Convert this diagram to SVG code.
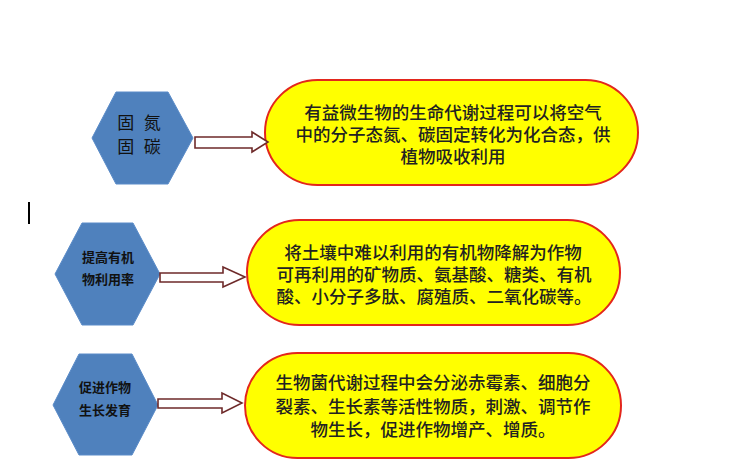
<svg xmlns="http://www.w3.org/2000/svg" width="742" height="471" viewBox="0 0 742 471">
<style>
.hex{fill:#4f81bd;stroke:#5a8bc8;stroke-width:1}
.pill{fill:#ffff00;stroke:#e3261c;stroke-width:2}
.arr{fill:#ffffff;stroke:#6e2a2a;stroke-width:1.6;stroke-linejoin:miter}
text{font-family:"Liberation Sans","Noto Sans CJK SC","Noto Sans CJK JP",sans-serif;text-anchor:middle;dominant-baseline:central}
.ht{font-size:13px;font-weight:700;fill:#111}
.hb{font-size:17px;font-weight:400;fill:#111}
.pt{font-size:17.5px;font-weight:500;fill:#222}
</style>
<rect width="742" height="471" fill="#ffffff"/>
<line x1="29" y1="202" x2="29" y2="224" stroke="#000" stroke-width="2"/>

<g id="node-gudan">
<polygon class="hex" points="92,138 116,92 168,92 193,138 168,184 116,184"/>
<text class="hb" x="139" y="123" xml:space="preserve">固  氮<tspan x="139" dy="24">固  碳</tspan></text>
</g>
<g id="node-desc1">
<rect class="pill" x="265" y="80" width="373" height="105" rx="52.5"/>
<text class="pt" x="453" y="113">有益微生物的生命代谢过程可以将空气<tspan x="453" dy="22">中的分子态氮、碳固定转化为化合态，供</tspan><tspan x="453" dy="22">植物吸收利用</tspan></text>
</g>

<g id="node-tigao">
<polygon class="hex" points="55,274 82,223 133,223 160,274 133,325 82,325"/>
<text class="ht" x="108" y="257">提高有机<tspan x="108" dy="22">物利用率</tspan></text>
</g>
<g id="node-desc2">
<rect class="pill" x="247" y="220" width="373" height="105" rx="52.5"/>
<text class="pt" x="433" y="253">将土壤中难以利用的有机物降解为作物<tspan x="434" dy="22">可再利用的矿物质、氨基酸、糖类、有机</tspan><tspan x="434" dy="22">酸、小分子多肽、腐殖质、二氧化碳等。</tspan></text>
</g>

<g id="node-cujin">
<polygon class="hex" points="53,405 79,354 132,354 158,405 132,455 79,455"/>
<text class="ht" x="105" y="387">促进作物<tspan x="105" dy="23">生长发育</tspan></text>
</g>
<g id="node-desc3">
<rect class="pill" x="245" y="353" width="376" height="105" rx="52.5"/>
<text class="pt" x="433" y="383">生物菌代谢过程中会分泌赤霉素、细胞分<tspan x="433" dy="24">裂素、生长素等活性物质，刺激、调节作</tspan><tspan x="433" dy="23">物生长，促进作物增产、增质。</tspan></text>
</g>

<g id="connectors">
<polygon class="arr" points="195,137 252,137 252,132 268,142 252,152 252,148 195,148"/>
<polygon class="arr" points="160,273 223,273 223,267 245,277 223,287 223,282 160,282"/>
<polygon class="arr" points="158,399 222,399 222,393 242,403 222,413 222,408 158,408"/>
</g>
</svg>
